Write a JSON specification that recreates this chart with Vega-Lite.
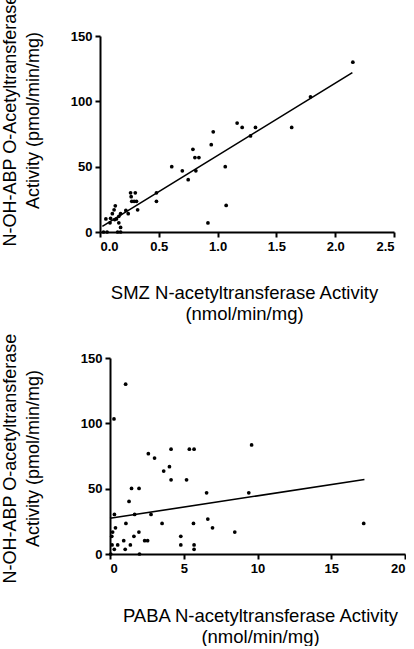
{
  "$schema": "https://vega.github.io/schema/vega-lite/v6.json",
  "padding": {"left": 0, "top": -7, "right": 0, "bottom": 0},
  "background": "white",
  "datasets": {
    "smz": [
      {"x": 2.15, "y": 130}, {"x": 1.79, "y": 103.5}, {"x": 1.63, "y": 80}, {"x": 1.166, "y": 83.4},
      {"x": 1.209, "y": 80}, {"x": 1.322, "y": 80}, {"x": 1.28, "y": 73.5}, {"x": 0.963, "y": 76.7},
      {"x": 0.946, "y": 66.8}, {"x": 0.79, "y": 63.3}, {"x": 0.807, "y": 57}, {"x": 0.841, "y": 57},
      {"x": 0.815, "y": 46.8}, {"x": 0.61, "y": 50}, {"x": 0.70, "y": 46.8}, {"x": 0.75, "y": 40},
      {"x": 1.065, "y": 50}, {"x": 1.073, "y": 20.3}, {"x": 0.918, "y": 6.9}, {"x": 0.48, "y": 30},
      {"x": 0.48, "y": 23.5}, {"x": 0.26, "y": 30}, {"x": 0.30, "y": 30}, {"x": 0.265, "y": 27},
      {"x": 0.27, "y": 23.5}, {"x": 0.29, "y": 23.5}, {"x": 0.31, "y": 23.5}, {"x": 0.32, "y": 17},
      {"x": 0.22, "y": 16.5}, {"x": 0.24, "y": 14}, {"x": 0.13, "y": 20}, {"x": 0.12, "y": 17},
      {"x": 0.105, "y": 14}, {"x": 0.09, "y": 10.5}, {"x": 0.05, "y": 10}, {"x": 0.125, "y": 9.5},
      {"x": 0.14, "y": 10}, {"x": 0.16, "y": 12}, {"x": 0.175, "y": 14}, {"x": 0.16, "y": 7},
      {"x": 0.175, "y": 3.5}, {"x": 0.15, "y": 0}, {"x": 0.175, "y": 0}, {"x": 0.03, "y": 0},
      {"x": 0.06, "y": 0}, {"x": 0.085, "y": 7}
    ],
    "smzfit": [{"x": 0.02, "y": 4.3}, {"x": 2.146, "y": 122}],
    "paba": [
      {"x": 1.06, "y": 130}, {"x": 0.27, "y": 103.4}, {"x": 9.6, "y": 83.5}, {"x": 2.6, "y": 76.8},
      {"x": 3.02, "y": 73.4}, {"x": 4.14, "y": 80.2}, {"x": 5.38, "y": 80.2}, {"x": 5.7, "y": 80.2},
      {"x": 4.03, "y": 66.8}, {"x": 3.64, "y": 63.5}, {"x": 4.14, "y": 56.8}, {"x": 5.19, "y": 56.8},
      {"x": 1.46, "y": 50.2}, {"x": 1.97, "y": 50.2}, {"x": 6.55, "y": 46.8}, {"x": 9.41, "y": 46.8},
      {"x": 1.29, "y": 40.2}, {"x": 0.3, "y": 30.3}, {"x": 1.67, "y": 30.3}, {"x": 2.78, "y": 30.3},
      {"x": 1.08, "y": 23.4}, {"x": 3.53, "y": 23.4}, {"x": 5.66, "y": 23.4}, {"x": 17.2, "y": 23.4},
      {"x": 6.63, "y": 26.7}, {"x": 6.95, "y": 20}, {"x": 0.37, "y": 20}, {"x": 0.18, "y": 16.8},
      {"x": 1.96, "y": 16.8}, {"x": 8.46, "y": 16.8}, {"x": 0.12, "y": 13.5}, {"x": 1.62, "y": 13.5},
      {"x": 4.8, "y": 13.5}, {"x": 0.14, "y": 6.9}, {"x": 0.52, "y": 6.9}, {"x": 1.38, "y": 6.9},
      {"x": 4.8, "y": 6.9}, {"x": 5.7, "y": 6.9}, {"x": 0.93, "y": 10.2}, {"x": 2.35, "y": 10.2},
      {"x": 2.55, "y": 10.2}, {"x": 0.29, "y": 3.6}, {"x": 1.03, "y": 3.6}, {"x": 5.7, "y": 3.6},
      {"x": 0.05, "y": 0}, {"x": 2.0, "y": 0}
    ],
    "pabafit": [{"x": 0, "y": 27.3}, {"x": 17.25, "y": 57}]
  },
  "columns": 1,
  "align": "none",
  "spacing": 9,
  "concat": [
    {
      "width": 294,
      "height": 196,
      "layer": [
        {
          "data": {"name": "smz"},
          "mark": {"type": "circle", "size": 14, "color": "black", "opacity": 1},
          "encoding": {
            "x": {"field": "x", "type": "quantitative",
              "scale": {"domain": [0, 2.5], "nice": false},
              "axis": {"values": [0, 0.5, 1, 1.5, 2, 2.5], "format": ".1f",
                "title": ["SMZ N-acetyltransferase Activity", "(nmol/min/mg)"],
                "titleY": 51, "titleX": 144, "titleFontSize": 18.5, "titleLineHeight": 21}},
            "y": {"field": "y", "type": "quantitative",
              "scale": {"domain": [0, 150], "nice": false},
              "axis": {"values": [0, 50, 100, 150],
                "title": ["N-OH-ABP O-Acetyltransferase", "Activity (pmol/min/mg)"],
                "titleX": -81, "titleY": 84}}
          }
        },
        {
          "data": {"name": "smzfit"},
          "mark": {"type": "line", "color": "black", "strokeWidth": 1.6},
          "encoding": {
            "x": {"field": "x", "type": "quantitative"},
            "y": {"field": "y", "type": "quantitative"}
          }
        }
      ]
    },
    {
      "width": 305,
      "height": 196,
      "layer": [
        {
          "data": {"name": "paba"},
          "mark": {"type": "circle", "size": 14, "color": "black", "opacity": 1},
          "encoding": {
            "x": {"field": "x", "type": "quantitative",
              "scale": {"domain": [0, 20], "nice": false, "range": [10, 305]},
              "axis": {"values": [0, 5, 10, 15, 20], "format": "d",
                "title": ["PABA N-acetyltransferase Activity", "(nmol/min/mg)"],
                "titleY": 52, "titleX": 160, "titleFontSize": 18.5, "titleLineHeight": 21}},
            "y": {"field": "y", "type": "quantitative",
              "scale": {"domain": [0, 150], "nice": false},
              "axis": {"values": [0, 50, 100, 150], "offset": -10,
                "title": ["N-OH-ABP O-acetyltransferase", "Activity (pmol/min/mg)"],
                "titleX": -91, "titleY": 100}}
          }
        },
        {
          "data": {"name": "pabafit"},
          "mark": {"type": "line", "color": "black", "strokeWidth": 1.6},
          "encoding": {
            "x": {"field": "x", "type": "quantitative"},
            "y": {"field": "y", "type": "quantitative"}
          }
        }
      ]
    }
  ],
  "config": {
    "view": {"stroke": null},
    "font": "Liberation Sans",
    "axis": {
      "grid": false,
      "domainColor": "black",
      "domainWidth": 2,
      "tickColor": "black",
      "tickWidth": 2,
      "tickSize": 5,
      "labelFont": "Liberation Sans",
      "labelFontSize": 13,
      "labelFontWeight": "bold",
      "labelColor": "black",
      "labelPadding": 3,
      "titleFont": "Liberation Sans",
      "titleFontSize": 18,
      "titleFontWeight": "normal",
      "titleColor": "black",
      "titleLineHeight": 23
    }
  }
}
